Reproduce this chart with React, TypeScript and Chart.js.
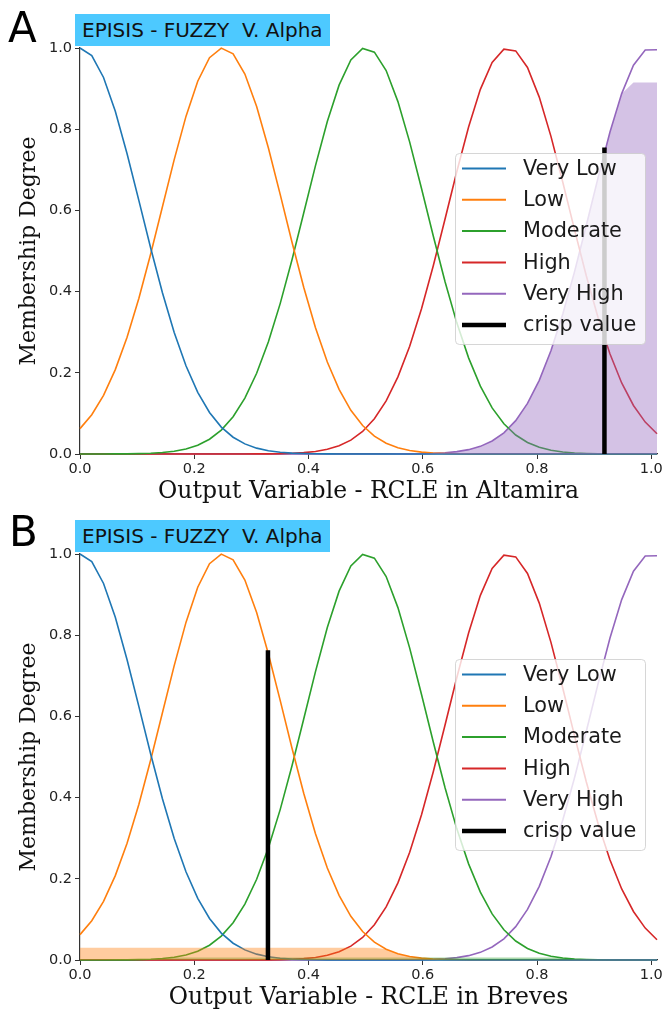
import React, { useEffect, useRef } from "react";
import { Chart, registerables } from "chart.js";

Chart.register(...registerables);

// Universe of the output variable (50 samples)
const universe = [
  0, 0.0206, 0.0412, 0.0618, 0.0824, 0.1031, 0.1237, 0.1443, 0.1649, 0.1855,
  0.2061, 0.2267, 0.2473, 0.268, 0.2886, 0.3092, 0.3298, 0.3504, 0.371, 0.3916,
  0.4122, 0.4329, 0.4535, 0.4741, 0.4947, 0.5153, 0.5359, 0.5565, 0.5771, 0.5978,
  0.6184, 0.639, 0.6596, 0.6802, 0.7008, 0.7214, 0.742, 0.7627, 0.7833, 0.8039,
  0.8245, 0.8451, 0.8657, 0.8863, 0.9069, 0.9276, 0.9482, 0.9688, 0.9894, 1.01,
];

const veryLow = [
  1.0, 0.9813, 0.9274, 0.844, 0.7396, 0.6242, 0.5073, 0.3971, 0.2993, 0.2172,
  0.1518, 0.1022, 0.0662, 0.0413, 0.0249, 0.0144, 0.008, 0.0043, 0.0022, 0.0011,
  0.0005, 0.0002, 0.0001, 0, 0, 0, 0, 0, 0, 0,
  0, 0, 0, 0, 0, 0, 0, 0, 0, 0,
  0, 0, 0, 0, 0, 0, 0, 0, 0, 0,
];

const low = [
  0.0625, 0.0969, 0.1446, 0.2078, 0.2876, 0.3838, 0.4926, 0.6091, 0.7252, 0.8315,
  0.9181, 0.9762, 0.9997, 0.9857, 0.936, 0.856, 0.7538, 0.6394, 0.5223, 0.4108,
  0.3112, 0.2267, 0.1592, 0.1077, 0.0702, 0.044, 0.0266, 0.0155, 0.0087, 0.0047,
  0.0024, 0.0012, 0.0006, 0.0003, 0.0001, 0, 0, 0, 0, 0,
  0, 0, 0, 0, 0, 0, 0, 0, 0, 0,
];

const moderate = [
  0, 0, 0.0001, 0.0002, 0.0004, 0.0009, 0.0019, 0.0036, 0.0069, 0.0124,
  0.0216, 0.0364, 0.0588, 0.0918, 0.1377, 0.1988, 0.2765, 0.3704, 0.4779, 0.5937,
  0.7103, 0.8189, 0.9085, 0.9707, 0.9988, 0.9897, 0.9444, 0.868, 0.7681, 0.6541,
  0.5369, 0.4243, 0.323, 0.2368, 0.1671, 0.1136, 0.0744, 0.0468, 0.0284, 0.0166,
  0.0094, 0.0051, 0.0026, 0.0013, 0.0006, 0.0003, 0.0001, 0.0001, 0, 0,
];

const high = [
  0, 0, 0, 0, 0, 0, 0, 0, 0, 0,
  0, 0, 0, 0, 0.0001, 0.0002, 0.0004, 0.0008, 0.0017, 0.0033,
  0.0063, 0.0116, 0.0202, 0.0341, 0.0555, 0.0868, 0.1308, 0.1899, 0.2654, 0.3577,
  0.4637, 0.5789, 0.6959, 0.8056, 0.8982, 0.9644, 0.9972, 0.9929, 0.952, 0.8791,
  0.7817, 0.6694, 0.5521, 0.4385, 0.3355, 0.2467, 0.175, 0.1195, 0.0786, 0.0498,
];

const veryHigh = [
  0, 0, 0, 0, 0, 0, 0, 0, 0, 0,
  0, 0, 0, 0, 0, 0, 0, 0, 0, 0,
  0, 0, 0, 0, 0, 0, 0.0001, 0.0002, 0.0004, 0.0008,
  0.0016, 0.0031, 0.0059, 0.0107, 0.0188, 0.032, 0.0522, 0.0822, 0.1245, 0.1815,
  0.255, 0.3449, 0.4492, 0.5635, 0.6808, 0.7923, 0.8876, 0.9577, 0.995, 0.9956,
];

const termLabels = ["Very Low", "Low", "Moderate", "High", "Very High"];
const termColors = ["#1f77b4", "#ff7f0e", "#2ca02c", "#d62728", "#9467bd"];
const termFills = [
  "rgba(31,119,180,0.4)",
  "rgba(255,127,14,0.4)",
  "rgba(44,160,44,0.4)",
  "rgba(214,39,40,0.4)",
  "rgba(148,103,189,0.4)",
];

const panelLetters = ["A", "B"];
const xTitles = [
  "Output Variable - RCLE in Altamira",
  "Output Variable - RCLE in Breves",
];
const crispValues = [0.918, 0.329];
const crispHeights = [0.755, 0.763];
const activationsA = [0, 0, 0, 0, 0.915];
const activationsB = [0, 0.03, 0.006, 0, 0];
const badgeText = "EPISIS - FUZZY  V. Alpha";
const yTitle = "Membership Degree";
const crispLabel = "crisp value";
const xMin = 0;
const xMax = 1.01;
const tickStep = 0.2;

const legendPlugin = {
  id: "fuzzyLegend",
  afterDatasetsDraw(chart: any) {
    const { ctx, chartArea } = chart;
    const w = 190;
    const h = 191;
    const x0 = chartArea.right - 12 - w;
    const y0 = (chartArea.top + chartArea.bottom) / 2 - h / 2 - 2.5;
    ctx.save();
    ctx.beginPath();
    if (ctx.roundRect) ctx.roundRect(x0 + 0.5, y0 + 0.5, w, h, 4);
    else ctx.rect(x0 + 0.5, y0 + 0.5, w, h);
    ctx.fillStyle = "rgba(255,255,255,0.8)";
    ctx.fill();
    ctx.strokeStyle = "rgba(204,204,204,0.8)";
    ctx.lineWidth = 1;
    ctx.stroke();
    const items = termLabels.map((l, i) => ({ label: l, color: termColors[i], width: 2 }));
    items.push({ label: crispLabel, color: "#000", width: 4.5 });
    ctx.font = '20.8px "DejaVu Sans"';
    ctx.textBaseline = "middle";
    ctx.textAlign = "left";
    items.forEach((it, i) => {
      const cy = y0 + 15.5 + i * 31.3;
      ctx.beginPath();
      ctx.strokeStyle = it.color;
      ctx.lineWidth = it.width;
      ctx.lineCap = "butt";
      ctx.moveTo(x0 + 7, cy);
      ctx.lineTo(x0 + 51, cy);
      ctx.stroke();
      ctx.fillStyle = "#1a1a1a";
      ctx.fillText(it.label, x0 + 68, cy + 1);
    });
    ctx.restore();
  },
};

function Panel({ idx, top }: { idx: number; top: number }) {
  const ref = useRef<HTMLCanvasElement>(null);
  useEffect(() => {
    const terms = [veryLow, low, moderate, high, veryHigh];
    const acts = idx === 0 ? activationsA : activationsB;
    const datasets: any[] = [];
    terms.forEach((vals, t) => {
      datasets.push({
        label: termLabels[t],
        data: universe.map((x, i) => ({ x, y: vals[i] })),
        borderColor: termColors[t],
        borderWidth: 1.6,
        pointRadius: 0,
        fill: false,
        tension: 0,
        order: 2,
        clip: false,
      });
    });
    terms.forEach((vals, t) => {
      if (acts[t] > 0) {
        datasets.push({
          label: termLabels[t] + " activation",
          data: universe.map((x, i) => ({ x, y: Math.min(vals[i], acts[t]) })),
          borderWidth: 0,
          borderColor: "rgba(0,0,0,0)",
          backgroundColor: termFills[t],
          fill: "origin",
          pointRadius: 0,
          tension: 0,
          order: 1,
        });
      }
    });
    datasets.push({
      label: crispLabel,
      data: [
        { x: crispValues[idx], y: 0 },
        { x: crispValues[idx], y: crispHeights[idx] },
      ],
      borderColor: "#000",
      borderWidth: 4.5,
      pointRadius: 0,
      fill: false,
      order: 0,
      clip: false,
    });

    const tickFont = { family: "DejaVu Sans", size: 14.5 };
    const chart = new Chart(ref.current as HTMLCanvasElement, {
      type: "line",
      data: { datasets },
      options: {
        animation: false,
        responsive: false,
        events: [],
        layout: { padding: { top: 48, right: 23, bottom: 0, left: 0 } },
        plugins: { legend: { display: false }, tooltip: { enabled: false } },
        scales: {
          x: {
            type: "linear",
            min: xMin,
            max: xMax,
            ticks: {
              stepSize: tickStep,
              includeBounds: false,
              callback: (v: any) => Number(v).toFixed(1),
              font: tickFont,
              color: "#222",
              padding: 2,
              maxRotation: 0,
            },
            grid: { drawOnChartArea: false, tickLength: 5, tickColor: "#333", tickWidth: 1 },
            border: { display: true, color: "#333", width: 1.2 },
            title: {
              display: true,
              text: xTitles[idx],
              font: { family: "DejaVu Serif", size: 23.5 },
              color: "#111",
              padding: { top: 0, bottom: 0 },
            },
            afterFit: (s: any) => {
              s.height = 52;
            },
          },
          y: {
            type: "linear",
            min: 0,
            max: 1,
            ticks: {
              stepSize: tickStep,
              callback: (v: any) => Number(v).toFixed(1),
              font: tickFont,
              color: "#222",
              padding: 3,
            },
            grid: { drawOnChartArea: false, tickLength: 5, tickColor: "#333", tickWidth: 1 },
            border: { display: true, color: "#333", width: 1.2 },
            title: {
              display: true,
              text: yTitle,
              font: { family: "DejaVu Serif", size: 22 },
              color: "#111",
              padding: { top: 16, bottom: 0 },
            },
            afterFit: (s: any) => {
              s.width = 80;
            },
          },
        },
      } as any,
      plugins: [legendPlugin],
    });
    return () => chart.destroy();
  }, [idx]);

  return (
    <div
      style={{
        position: "absolute",
        left: 0,
        top,
        width: 662,
        height: 506,
        overflow: "hidden",
      }}
    >
      <canvas ref={ref} width={680} height={506} style={{ display: "block" }} />
      <div
        style={{
          position: "absolute",
          left: idx === 0 ? 8 : 9,
          top: idx === 0 ? 7 : 5,
          fontFamily: "DejaVu Sans",
          fontSize: 42,
          lineHeight: "42px",
          color: "#000",
        }}
      >
        {panelLetters[idx]}
      </div>
      <div
        style={{
          position: "absolute",
          left: 75,
          top: 14,
          height: 32,
          padding: "0 7px",
          background: "rgb(77,201,255)",
          fontFamily: "DejaVu Sans",
          fontSize: 20,
          lineHeight: "32px",
          color: "#111",
          whiteSpace: "pre",
        }}
      >
        {badgeText}
      </div>
    </div>
  );
}

export default function App() {
  return (
    <div style={{ position: "absolute", left: 0, top: 0, width: 662, height: 1013, background: "#fff" }}>
      <Panel idx={0} top={0} />
      <Panel idx={1} top={506} />
    </div>
  );
}
